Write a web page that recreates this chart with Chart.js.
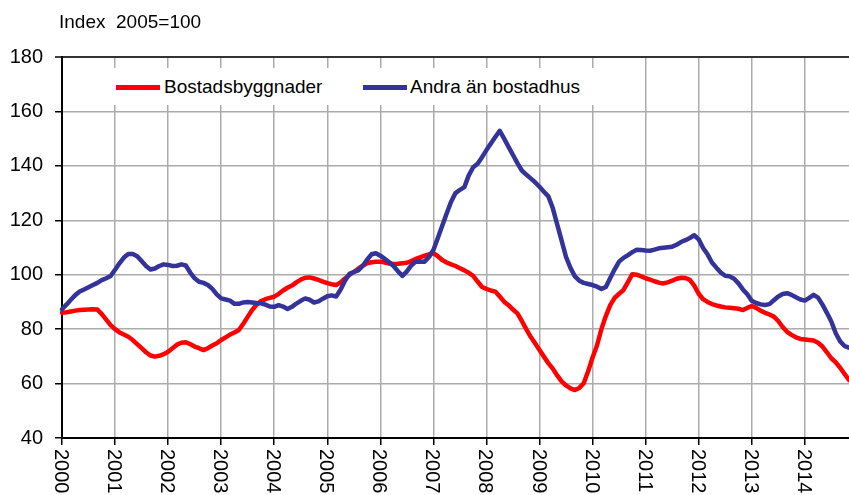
<!DOCTYPE html>
<html><head><meta charset="utf-8">
<script src="https://cdn.jsdelivr.net/npm/chart.js@4.4.0/dist/chart.umd.min.js"></script>
<style>
html,body{margin:0;padding:0;background:#fff;overflow:hidden}
#wrap{position:relative;width:849px;height:495px;overflow:hidden}
canvas{position:absolute;left:0;top:0}
.txt{position:absolute;font-family:"Liberation Sans",Arial,sans-serif;color:#000;white-space:nowrap}
#title{left:59px;top:10px;font-size:19px;line-height:24px}
#legend{position:absolute;left:70px;top:68px;width:550px;height:37px;background:#fff}
.sw{position:absolute;height:5px;top:17px;width:44px}
.lt{font-size:19px;line-height:22px;top:8px}
.yl{position:absolute;writing-mode:vertical-rl;font-family:"Liberation Sans",Arial,sans-serif;font-size:20px;line-height:20px;width:20px;color:#000;white-space:nowrap}
</style></head>
<body><div id="wrap"><canvas id="c" width="849" height="495"></canvas>
<div id="title" class="txt">Index&nbsp;&nbsp;2005=100</div>
<div id="legend">
  <div class="sw" style="left:46px;background:#ff0000"></div>
  <div class="txt lt" style="left:94px">Bostadsbyggnader</div>
  <div class="sw" style="left:293px;background:#333399"></div>
  <div class="txt lt" style="left:340px">Andra än bostadhus</div>
</div>
</div>
<script>
const yearLabels = ['2000','2001','2002','2003','2004','2005','2006','2007','2008','2009','2010','2011','2012','2013','2014'];
const categories = [];
for (const y of yearLabels) for (let m = 1; m <= 12; m++) categories.push(y + 'M' + (m < 10 ? '0' + m : m));
categories.length = 179; // Jan 2000 .. Nov 2014

const seriesNames = ['Bostadsbyggnader', 'Andra än bostadhus'];

const bostadsbyggnader = [
  86.0, 86.2, 86.5, 86.8, 87.0, 87.1, 87.2, 87.3, 87.2, 85.5, 83.5, 81.5,
  80.0, 78.8, 78.0, 77.2, 76.0, 74.5, 73.0, 71.5, 70.3, 69.9, 70.2, 70.8,
  71.7, 73.0, 74.3, 75.0, 75.2, 74.5, 73.6, 73.0, 72.3, 73.0, 74.0, 74.8,
  76.0, 77.0, 78.0, 78.8, 79.7, 82.0, 84.5, 87.0, 89.0, 90.3, 91.0, 91.5,
  91.9, 93.0, 94.2, 95.2, 96.0, 97.2, 98.2, 98.9, 99.0, 98.6, 98.1, 97.5,
  96.9, 96.5, 96.2, 97.2, 98.6, 99.9, 101.0, 102.2, 103.3, 104.2, 104.6, 104.8,
  104.8, 104.5, 104.1, 103.9, 104.0, 104.2, 104.4, 105.0, 105.8, 106.4, 107.0, 107.5,
  107.9, 106.8, 105.4, 104.5, 103.8, 103.2, 102.4, 101.6, 100.7, 99.6, 97.5, 95.5,
  94.8, 94.2, 93.8, 92.0, 90.1, 88.8, 87.2, 85.8, 83.0, 80.0, 77.2, 74.8,
  72.3, 69.9, 67.5, 65.5, 63.0, 60.8, 59.3, 58.2, 57.6, 58.4, 60.1, 64.5,
  69.6, 74.0, 80.0, 84.8, 88.8, 91.5, 93.0, 94.4, 97.3, 100.2, 100.0, 99.4,
  98.7, 98.2, 97.6, 97.1, 96.8, 97.2, 97.8, 98.5, 98.9, 98.8, 98.1, 96.0,
  93.0, 91.0, 90.0, 89.2, 88.7, 88.3, 88.0, 87.9, 87.7, 87.5, 87.0, 87.8,
  88.5, 87.8, 86.8, 86.0, 85.4, 84.6, 83.0, 80.8, 79.0, 77.9, 77.0, 76.4,
  76.2, 76.0, 75.8, 75.0, 73.6, 71.5, 69.3, 67.8, 65.8, 63.5, 61.3
];

const andraAnBostadhus = [
  87.3, 89.0, 90.8, 92.5, 93.8, 94.6, 95.4, 96.2, 97.0, 98.0, 98.7, 99.5,
  101.8, 104.2, 106.3, 107.6, 107.6, 106.8, 105.0, 103.2, 101.9, 102.3, 103.2, 103.8,
  103.6, 103.2, 103.3, 103.8, 103.4, 100.8, 98.7, 97.4, 97.0, 96.2, 94.8, 92.8,
  91.3, 90.9, 90.5, 89.3, 89.3, 89.8, 90.0, 89.8, 89.6, 89.5, 89.0, 88.3,
  88.2, 88.8, 88.3, 87.4, 88.2, 89.4, 90.4, 91.3, 90.8, 89.8, 90.2, 91.2,
  92.1, 92.4, 92.0, 94.5, 97.8, 100.3, 101.0, 101.6, 103.2, 105.5, 107.5, 107.9,
  107.0, 105.8, 104.6, 103.2, 101.2, 99.6, 101.2, 103.4, 104.8, 104.9, 104.8, 106.5,
  109.1, 113.5, 118.0, 122.5, 126.8, 130.0, 131.2, 132.2, 136.5, 139.5, 140.8, 143.2,
  145.8, 148.2, 150.6, 152.9, 150.0, 147.0, 144.0, 141.0, 138.3, 136.8, 135.4, 134.0,
  132.3, 130.5, 128.8, 124.5, 118.5, 112.5, 106.5, 102.5, 99.4, 97.8, 97.0, 96.6,
  96.2, 95.6, 94.8, 95.5, 98.8, 102.0, 104.8, 106.2, 107.2, 108.3, 109.2, 109.1,
  108.9, 108.8, 109.2, 109.7, 109.9, 110.1, 110.3, 111.0, 112.0, 112.7, 113.5, 114.5,
  113.0, 109.8, 107.5, 104.5, 102.6, 100.8, 99.6, 99.4, 98.5, 96.8, 94.6, 92.8,
  90.4, 89.6, 89.1, 88.9, 89.2, 90.6, 92.0, 92.9, 93.2, 92.6, 91.7, 90.9,
  90.5, 91.5, 92.6, 91.6, 89.0, 86.0, 82.8, 78.5, 75.5, 73.8, 73.2
];

const yTicksMin = 40, yTicksMax = 180, yStep = 20;

const FONT = '"Liberation Sans", Arial, sans-serif';
const GRID = '#ababab';

const yearLabelPlugin = {
  id: 'yearLabels',
  afterDraw(chart) {
    const sx = chart.scales.x;
    const wrap = document.getElementById('wrap');
    yearLabels.forEach((lab, i) => {
      let el = document.getElementById('yl' + i);
      if (!el) {
        el = document.createElement('div');
        el.id = 'yl' + i;
        el.className = 'yl';
        el.textContent = lab;
        wrap.appendChild(el);
      }
      const px = sx.getPixelForValue(i * 12);
      el.style.left = (px - 10) + 'px';
      el.style.top = (sx.top + 11) + 'px';
    });
  }
};

new Chart(document.getElementById('c'), {
  type: 'line',
  data: {
    labels: categories,
    datasets: [
      { label: seriesNames[0], data: bostadsbyggnader, borderColor: '#ff0000', borderWidth: 4.5,
        pointRadius: 0, tension: 0, fill: false, order: 1, borderJoinStyle: 'round', borderCapStyle: 'round' },
      { label: seriesNames[1], data: andraAnBostadhus, borderColor: '#333399', borderWidth: 4.5,
        pointRadius: 0, tension: 0, fill: false, order: 0, borderJoinStyle: 'round', borderCapStyle: 'round' }
    ]
  },
  options: {
    responsive: false,
    animation: false,
    devicePixelRatio: 1,
    layout: { padding: { top: 57, right: 0, left: 0, bottom: 0 } },
    plugins: { legend: { display: false }, tooltip: { enabled: false }, title: { display: false } },
    scales: {
      x: {
        type: 'category',
        offset: false,
        ticks: { display: false, autoSkip: false },
        grid: {
          color: c => (c.index % 12 === 0 ? GRID : 'rgba(0,0,0,0)'),
          lineWidth: 1.5,
          tickLength: 7,
          tickColor: c => (c.index % 12 === 0 ? '#000' : 'rgba(0,0,0,0)'),
          tickWidth: 1.5
        },
        border: { color: '#000', width: 2 },
        afterFit(s) { s.height = 57; }
      },
      y: {
        min: yTicksMin, max: yTicksMax,
        ticks: { stepSize: yStep, color: '#000', font: { family: FONT, size: 20 }, padding: 12 },
        grid: {
          color: c => (c.tick && c.tick.value === yTicksMax ? '#333333' : GRID),
          lineWidth: c => (c.tick && c.tick.value === yTicksMax ? 2 : 1.5),
          tickLength: 7,
          tickColor: '#000',
          tickWidth: 1.5
        },
        border: { color: '#000', width: 2 },
        afterFit(s) { s.width = 62; }
      }
    }
  },
  plugins: [yearLabelPlugin]
});
</script>
</body></html>
